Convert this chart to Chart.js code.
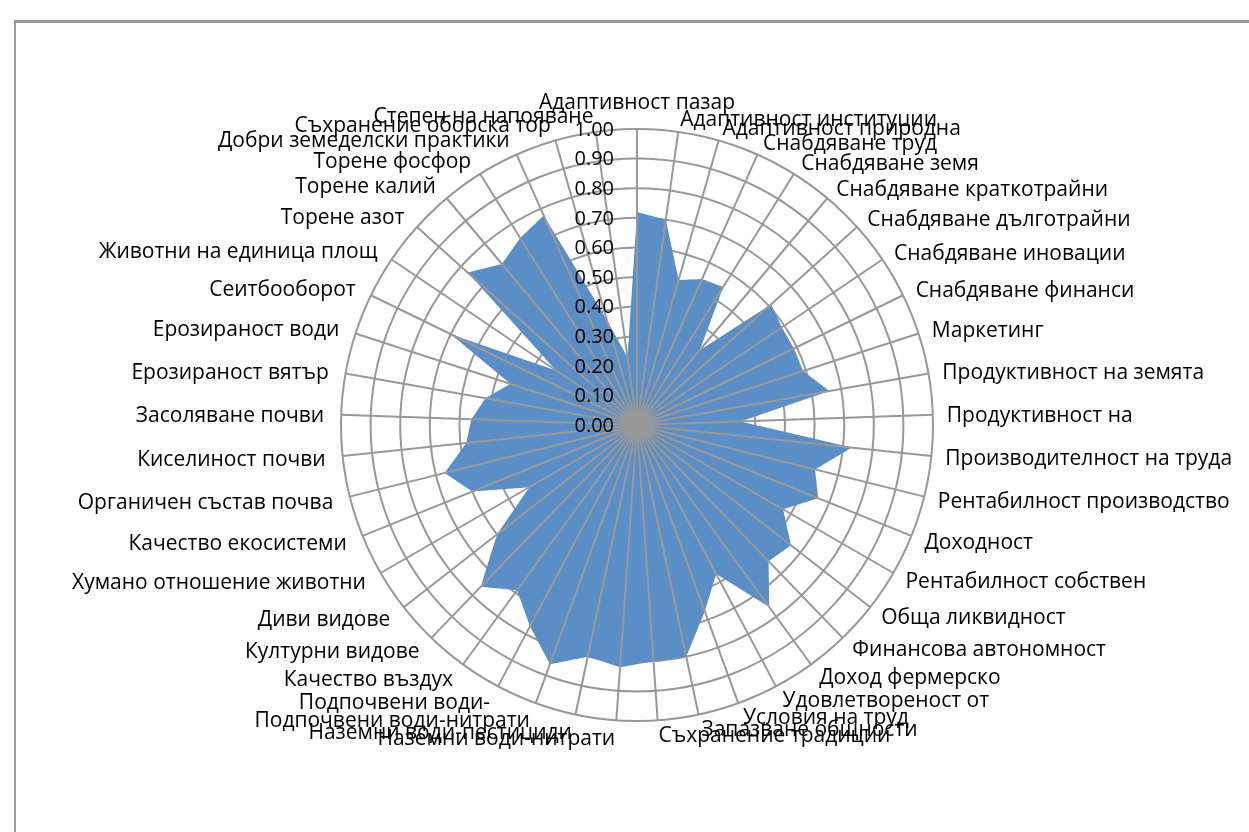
<!DOCTYPE html>
<html>
<head>
<meta charset="utf-8">
<script src="https://cdn.jsdelivr.net/npm/chart.js@4/dist/chart.umd.min.js"></script>
<style>
  html, body { margin: 0; padding: 0; background: #fff; }
  body { width: 1249px; height: 832px; position: relative; overflow: hidden; }
  .frame { position: absolute; left: 14px; top: 20px; width: 1300px; height: 900px;
           border-left: 2px solid #9a9a9a; border-top: 3px solid #9a9a9a; }
  canvas { position: absolute; left: 0; top: 0; }
</style>
</head>
<body>
<div class="frame"></div>
<canvas id="radar" width="1249" height="832"></canvas>
<script>
const categories = [
  "Адаптивност пазар", "Адаптивност институции", "Адаптивност природна",
  "Снабдяване труд", "Снабдяване земя", "Снабдяване краткотрайни",
  "Снабдяване дълготрайни", "Снабдяване иновации", "Снабдяване финанси",
  "Маркетинг", "Продуктивност на земята", "Продуктивност на",
  "Производителност на труда", "Рентабилност производство", "Доходност",
  "Рентабилност собствен", "Обща ликвидност", "Финансова автономност",
  "Доход фермерско", "Удовлетвореност от", "Условия на труд",
  "Запазване общности", "Съхранение традиции", "Наземни води-нитрати",
  "Наземни води-пестициди", "Подпочвени води-нитрати", "Подпочвени води-",
  "Качество въздух", "Културни видове", "Диви видове",
  "Хумано отношение животни", "Качество екосистеми", "Органичен състав почва",
  "Киселиност почви", "Засоляване почви", "Ерозираност вятър",
  "Ерозираност води", "Сеитбооборот", "Животни на единица площ",
  "Торене азот", "Торене калий", "Торене фосфор",
  "Добри земеделски практики", "Съхранение оборска тор", "Степен на напояване",
];

const values = [
  0.72, 0.70, 0.51, 0.54, 0.55, 0.33, 0.61, 0.59, 0.59, 0.59,
  0.66, 0.35, 0.73, 0.62, 0.66, 0.57, 0.66, 0.64, 0.76, 0.57,
  0.67, 0.80, 0.80, 0.82, 0.80, 0.86, 0.77, 0.69, 0.76, 0.60,
  0.42, 0.60, 0.67, 0.58, 0.56, 0.52, 0.45, 0.70, 0.33, 0.77,
  0.71, 0.745, 0.775, 0.37, 0.23,
];

const tickValues = [0, 0.1, 0.2, 0.3, 0.4, 0.5, 0.6, 0.7, 0.8, 0.9, 1.0];

const GRID_COLOR = "#989898";
const FILL_COLOR = "#5b8ec7";
const LABEL_FONT = "21px 'Open Sans'";
const TICK_FONT = "20px 'Open Sans'";

// Excel draws the spokes over the filled area and puts the labels flat round the circle
const radarDecor = {
  id: "radarDecor",
  afterDatasetsDraw(chart) {
    const scale = chart.scales.r;
    const ctx = chart.ctx;
    ctx.save();
    ctx.strokeStyle = GRID_COLOR;
    ctx.lineWidth = 2;
    ctx.beginPath();
    for (let i = 0; i < categories.length; i++) {
      const p = scale.getPointPosition(i, scale.drawingArea);
      ctx.moveTo(scale.xCenter, scale.yCenter);
      ctx.lineTo(p.x, p.y);
    }
    ctx.stroke();
    ctx.restore();
  },
  afterDraw(chart) {
    const scale = chart.scales.r;
    const ctx = chart.ctx;
    ctx.save();
    ctx.fillStyle = "#000";
    ctx.font = LABEL_FONT;

    categories.forEach((label, i) => {
      const deg = Math.round((scale.getIndexAngle(i) * 180) / Math.PI) % 360;
      if (deg === 0) {
        ctx.textAlign = "center";
        ctx.textBaseline = "alphabetic";
        ctx.fillText(label, scale.xCenter, scale.yCenter - scale.drawingArea - 20);
        return;
      }
      const right = deg < 180;
      const p = scale.getPointPosition(i, scale.drawingArea + (right ? 14 : 17));
      ctx.textAlign = right ? "left" : "right";
      ctx.textBaseline = "middle";
      ctx.fillText(label, p.x, p.y + 2);
    });

    ctx.font = TICK_FONT;
    ctx.textAlign = "right";
    ctx.textBaseline = "middle";
    tickValues.forEach((v) => {
      const y = scale.yCenter - scale.getDistanceFromCenterForValue(v);
      ctx.fillText(v.toFixed(2), scale.xCenter - 23, y + 1);
    });
    ctx.restore();
  },
};

new Chart(document.getElementById("radar"), {
  type: "radar",
  data: {
    labels: categories,
    datasets: [
      {
        data: values,
        backgroundColor: FILL_COLOR,
        borderWidth: 0,
        pointRadius: 0,
        fill: true,
      },
    ],
  },
  options: {
    responsive: false,
    animation: false,
    layout: {
      padding: { left: 341, right: 316, top: 129, bottom: 111 },
    },
    scales: {
      r: {
        min: 0,
        max: 1,
        ticks: { display: false, stepSize: 0.1 },
        grid: { circular: true, color: GRID_COLOR, lineWidth: 2 },
        angleLines: { display: false },
        pointLabels: { display: false },
      },
    },
    plugins: {
      legend: { display: false },
      tooltip: { enabled: false },
    },
  },
  plugins: [radarDecor],
});
</script>
</body>
</html>
